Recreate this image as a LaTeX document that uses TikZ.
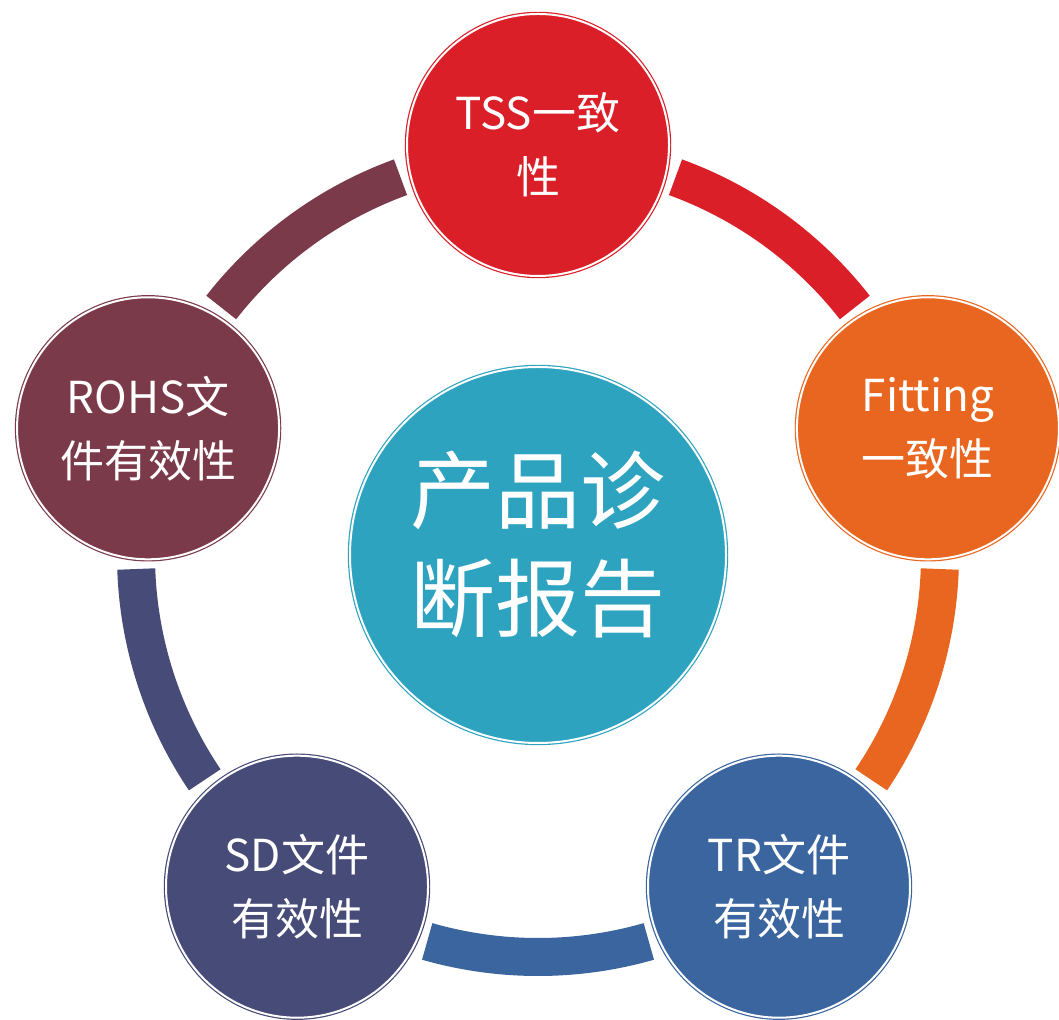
\documentclass[tikz,border=0pt]{standalone}
\usepackage{fontspec}
\usetikzlibrary{calc}
\setmainfont{Noto Sans CJK SC}
\definecolor{cred}{RGB}{218,31,40}
\definecolor{corange}{RGB}{232,102,31}
\definecolor{cblue}{RGB}{58,101,158}
\definecolor{cnavy}{RGB}{71,75,119}
\definecolor{cmaroon}{RGB}{123,58,74}
\definecolor{cteal}{RGB}{46,163,192}
\begin{document}
\begin{tikzpicture}[x=1pt,y=1pt,
  ball/.style={circle, inner sep=0pt, minimum size=262pt, fill=#1, draw=#1,
    double=white, line width=1.2pt, double distance=2pt, text=white,
    align=center, font=\fontsize{44}{64}\selectfont},
  hub/.style={circle, inner sep=0pt, minimum size=376pt, fill=cteal, draw=cteal,
    double=white, line width=1.2pt, double distance=2pt},
  hubtext/.style={text=white, align=center, font=\fontsize{85}{108}\selectfont},
  ringarc/.style={line width=38pt, draw=#1, line cap=butt}]
\useasboundingbox (0,0) rectangle (1059,1019);
\coordinate (O) at (538,464);
% ring segments
\begin{scope}[shift={(O)}]
\draw[ringarc=cred]    (70:402)   arc[start angle=70,   end angle=38,   radius=402];
\draw[ringarc=corange] (-2:402)   arc[start angle=-2,   end angle=-34,  radius=402];
\draw[ringarc=cblue]   (-74:402)  arc[start angle=-74,  end angle=-106, radius=402];
\draw[ringarc=cnavy]   (-146:402) arc[start angle=-146, end angle=-178, radius=402];
\draw[ringarc=cmaroon] (142:402)  arc[start angle=142,  end angle=110,  radius=402];
\end{scope}
% nodes
\node[hub] (center) at (O) {};
\node[hubtext] (centertext) at ($(O)+(0,10)$) {产品诊\\断报告};
\node[ball=cred]    (tss)  at ($(O)+(90:410)$)   {TSS一致\\性};
\node[ball=corange] (fit)  at ($(O)+(18:410)$)   {Fitting\\一致性};
\node[ball=cblue]   (tr)   at ($(O)+(-54:410)$)  {TR文件\\有效性};
\node[ball=cnavy]   (sd)   at ($(O)+(-126:410)$) {SD文件\\有效性};
\node[ball=cmaroon] (rohs) at ($(O)+(162:410)$)  {ROHS文\\件有效性};
\end{tikzpicture}
\end{document}
